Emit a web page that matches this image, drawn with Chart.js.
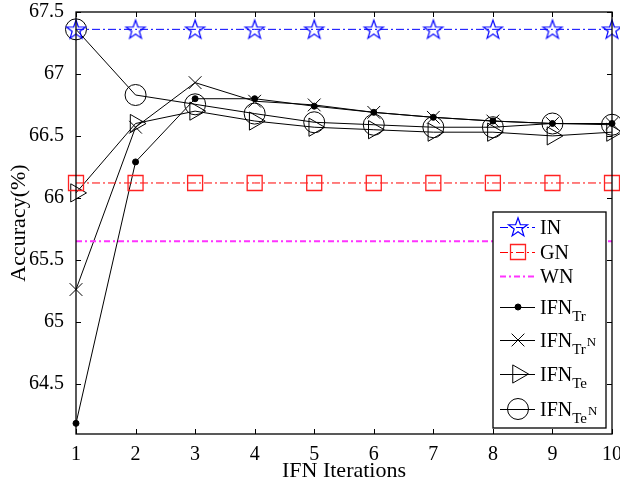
<!DOCTYPE html>
<html><head><meta charset="utf-8">
<script src="https://cdn.jsdelivr.net/npm/chart.js@4/dist/chart.umd.min.js"></script>
<style>html,body{margin:0;padding:0;background:#fff;overflow:hidden}</style>
</head><body>
<canvas id="c" width="620" height="484" style="width:620px;height:484px;display:block"></canvas>
<script>
// ---- data ----
const iterations = [1, 2, 3, 4, 5, 6, 7, 8, 9, 10];
const yTickValues = [64.5, 65, 65.5, 66, 66.5, 67, 67.5];
const IN = [67.36, 67.36, 67.36, 67.36, 67.36, 67.36, 67.36, 67.36, 67.36, 67.36];
const GN = [66.12, 66.12, 66.12, 66.12, 66.12, 66.12, 66.12, 66.12, 66.12, 66.12];
const WN = [65.65, 65.65, 65.65, 65.65, 65.65, 65.65, 65.65, 65.65, 65.65, 65.65];
const IFN_Tr = [64.18, 66.29, 66.80, 66.80, 66.74, 66.69, 66.65, 66.62, 66.60, 66.60];
const IFN_TrN = [65.26, 66.57, 66.93, 66.78, 66.75, 66.69, 66.65, 66.62, 66.60, 66.60];
const IFN_Te = [66.04, 66.60, 66.70, 66.62, 66.57, 66.55, 66.53, 66.53, 66.50, 66.53];
const IFN_TeN = [67.36, 66.83, 66.755, 66.68, 66.61, 66.59, 66.57, 66.57, 66.60, 66.59];
const legendBase = ['IN', 'GN', 'WN', 'IFN', 'IFN', 'IFN', 'IFN'];
const legendSub = ['', '', '', 'Tr', 'Tr', 'Te', 'Te'];
const legendSup = ['', '', '', '', 'N', '', 'N'];
const xTitle = 'IFN Iterations';
const yTitle = 'Accuracy(%)';

const FONT = "'Liberation Serif', 'Times New Roman', serif";

function starImage(color, R) {
  const s = Math.ceil(R * 2 + 4);
  const c = document.createElement('canvas');
  c.width = s; c.height = s;
  const g = c.getContext('2d');
  const cx = s / 2, cy = s / 2 + 0.8, r = R * 0.40;
  g.beginPath();
  for (let i = 0; i < 10; i++) {
    const rad = (i % 2 === 0) ? R : r;
    const a = -Math.PI / 2 + i * Math.PI / 5;
    const px = cx + rad * Math.cos(a), py = cy + rad * Math.sin(a);
    if (i === 0) g.moveTo(px, py); else g.lineTo(px, py);
  }
  g.closePath();
  g.strokeStyle = color; g.lineWidth = 1.2; g.stroke();
  return c;
}
const star = starImage('#0000ff', 10);

const pts = arr => iterations.map((x, i) => ({x, y: arr[i]}));

const datasets = [
  {label: 'IN', data: pts(IN), borderColor: '#0000ff', borderWidth: 1, borderDash: [8, 3, 2, 3],
   pointStyle: star, pointRadius: 10, pointBackgroundColor: 'transparent', pointBorderColor: '#0000ff', pointBorderWidth: 1},
  {label: 'GN', data: pts(GN), borderColor: '#ff0000', borderWidth: 1, borderDash: [8, 3, 2, 3],
   pointStyle: 'rect', pointRadius: 10.6, pointBackgroundColor: 'transparent', pointBorderColor: '#ff2222', pointBorderWidth: 1.3},
  {label: 'WN', data: pts(WN), borderColor: '#ff33ff', borderWidth: 2, borderDash: [6, 3, 2, 3],
   pointRadius: 0},
  {label: 'IFN_Tr', data: pts(IFN_Tr), borderColor: '#000', borderWidth: 1,
   pointStyle: 'circle', pointRadius: 3, pointBackgroundColor: '#000', pointBorderColor: '#000', pointBorderWidth: 1},
  {label: 'IFN_TrN', data: pts(IFN_TrN), borderColor: '#000', borderWidth: 1,
   pointStyle: 'crossRot', pointRadius: 9, pointBackgroundColor: 'transparent', pointBorderColor: '#000', pointBorderWidth: 1},
  {label: 'IFN_Te', data: pts(IFN_Te), borderColor: '#000', borderWidth: 1,
   pointStyle: 'triangle', pointRotation: 90, pointRadius: 10.5, pointBackgroundColor: 'transparent', pointBorderColor: '#000', pointBorderWidth: 1},
  {label: 'IFN_TeN', data: pts(IFN_TeN), borderColor: '#000', borderWidth: 1,
   pointStyle: 'circle', pointRadius: 10.5, pointBackgroundColor: 'transparent', pointBorderColor: '#000', pointBorderWidth: 1}
];
datasets.forEach(d => { d.clip = false; d.fill = false; d.tension = 0; d.pointHoverRadius = d.pointRadius; d.backgroundColor = 'transparent'; });

// frame with inward ticks (MATLAB style box) + legend with sub/superscripts
const framePlugin = {
  id: 'frame',
  afterDatasetsDraw(chart) {
    const {ctx, chartArea: a, scales: {x, y}} = chart;
    ctx.save();
    ctx.strokeStyle = '#000';
    ctx.lineWidth = 1.3;
    ctx.strokeRect(a.left, a.top, a.right - a.left, a.bottom - a.top);
    ctx.lineWidth = 1;
    ctx.beginPath();
    const L = 5;
    iterations.forEach(v => {
      const px = Math.round(x.getPixelForValue(v)) + 0.5;
      ctx.moveTo(px, a.bottom); ctx.lineTo(px, a.bottom - L);
      ctx.moveTo(px, a.top); ctx.lineTo(px, a.top + L);
    });
    yTickValues.forEach(v => {
      const py = Math.round(y.getPixelForValue(v)) + 0.5;
      ctx.moveTo(a.left, py); ctx.lineTo(a.left + L, py);
      ctx.moveTo(a.right, py); ctx.lineTo(a.right - L, py);
    });
    ctx.stroke();
    ctx.restore();
  },
  afterDraw(chart) {
    const {ctx} = chart;
    const bx = 493, by = 212, bw = 113, bh = 216;
    const rows = [227, 252, 276, 307, 340, 374, 409];
    ctx.save();
    ctx.fillStyle = '#fff';
    ctx.fillRect(bx, by, bw, bh);
    ctx.strokeStyle = '#000'; ctx.lineWidth = 1.3;
    ctx.strokeRect(bx, by, bw, bh);
    chart.data.datasets.forEach((d, i) => {
      const cy = rows[i];
      ctx.save();
      ctx.strokeStyle = d.borderColor; ctx.lineWidth = d.borderWidth;
      ctx.setLineDash(d.borderDash || []);
      ctx.beginPath(); ctx.moveTo(500, cy + 0.5); ctx.lineTo(535, cy + 0.5); ctx.stroke();
      ctx.setLineDash([]);
      if (d.pointRadius > 0) {
        ctx.fillStyle = d.pointBackgroundColor;
        ctx.strokeStyle = d.pointBorderColor;
        ctx.lineWidth = d.pointBorderWidth;
        Chart.helpers.drawPoint(ctx, {
          pointStyle: d.pointStyle, radius: d.pointRadius, rotation: d.pointRotation || 0,
          borderWidth: d.pointBorderWidth
        }, 518, cy);
      }
      ctx.restore();
      ctx.fillStyle = '#000';
      ctx.textBaseline = 'alphabetic';
      ctx.textAlign = 'left';
      ctx.font = '20px ' + FONT;
      const base = legendBase[i];
      const baseY = cy + 7;
      ctx.fillText(base, 540, baseY);
      let xx = 540 + ctx.measureText(base).width;
      if (legendSub[i]) {
        ctx.font = '15px ' + FONT;
        ctx.fillText(legendSub[i], xx, baseY + 7);
        xx += ctx.measureText(legendSub[i]).width;
      }
      if (legendSup[i]) {
        ctx.font = '13px ' + FONT;
        ctx.fillText(legendSup[i], xx + 1, baseY - 1);
      }
    });
    ctx.restore();
  }
};

new Chart(document.getElementById('c'), {
  type: 'line',
  data: {datasets},
  options: {
    responsive: false,
    devicePixelRatio: 1,
    animation: false,
    events: [],
    layout: {autoPadding: false, padding: {left: 0, right: 8, top: 12, bottom: 0}},
    plugins: {legend: {display: false}, tooltip: {enabled: false}},
    scales: {
      x: {
        type: 'linear', min: 1, max: 10,
        grid: {display: false}, border: {display: false},
        ticks: {stepSize: 1, color: '#000', padding: 1, maxRotation: 0, autoSkip: false,
                font: {family: FONT, size: 20}},
        title: {display: true, text: xTitle, color: '#000', padding: {top: 0, bottom: 0},
                font: {family: FONT, size: 22}},
        afterFit: s => { s.height = 50; s.paddingLeft = 0; s.paddingRight = 0; }
      },
      y: {
        type: 'linear', min: 64.094, max: 67.5,
        grid: {display: false}, border: {display: false},
        afterBuildTicks: s => { s.ticks = yTickValues.map(v => ({value: v})); },
        ticks: {color: '#000', padding: 4, autoSkip: false, callback: v => String(v),
                font: {family: FONT, size: 20}},
        title: {display: true, text: yTitle, color: '#000', padding: {top: 6, bottom: 0},
                font: {family: FONT, size: 22}},
        afterFit: s => { s.width = 76; s.paddingTop = 0; s.paddingBottom = 0; }
      }
    }
  },
  plugins: [framePlugin]
});
</script>
</body></html>
